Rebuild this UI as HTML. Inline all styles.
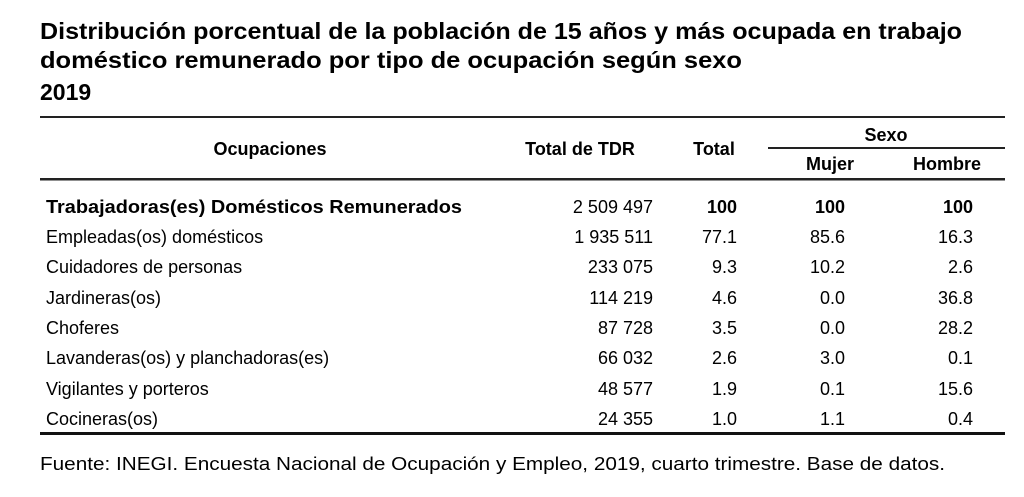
<!DOCTYPE html>
<html><head><meta charset="utf-8"><style>
html,body{margin:0;padding:0;background:#fff;}
svg{display:block;}
text{font-family:"Liberation Sans",Arial,sans-serif;fill:#000;}
.t{font-size:23px;font-weight:bold;}
.h{font-size:18px;font-weight:bold;}
.r{font-size:18px;}
.b{font-weight:bold;}
</style></head><body>
<svg width="1024" height="497" viewBox="0 0 1024 497" xmlns="http://www.w3.org/2000/svg">
<text class="t" x="40" y="39" textLength="922" lengthAdjust="spacingAndGlyphs">Distribución porcentual de la población de 15 años y más ocupada en trabajo</text>
<text class="t" x="40" y="68" textLength="702" lengthAdjust="spacingAndGlyphs">doméstico remunerado por tipo de ocupación según sexo</text>
<text class="t" x="40" y="100">2019</text>
<rect x="40" y="116" width="965" height="2" fill="#222"/>
<rect x="768" y="147" width="237" height="2" fill="#222"/>
<rect x="40" y="178" width="965" height="2.5" fill="#222"/>
<rect x="40" y="432" width="965" height="3" fill="#111"/>
<g class="h" text-anchor="middle">
<text x="270" y="155">Ocupaciones</text>
<text x="580" y="155">Total de TDR</text>
<text x="714" y="155">Total</text>
<text x="886" y="141">Sexo</text>
<text x="830" y="170">Mujer</text>
<text x="947" y="170">Hombre</text>
</g>
<g class="r">
<text x="46" y="213" class="b" textLength="416" lengthAdjust="spacingAndGlyphs">Trabajadoras(es) Domésticos Remunerados</text>
<text x="46" y="243">Empleadas(os) domésticos</text>
<text x="46" y="273">Cuidadores de personas</text>
<text x="46" y="304">Jardineras(os)</text>
<text x="46" y="334">Choferes</text>
<text x="46" y="364">Lavanderas(os) y planchadoras(es)</text>
<text x="46" y="395">Vigilantes y porteros</text>
<text x="46" y="425">Cocineras(os)</text>
</g>
<g class="r" text-anchor="end">
<text x="653" y="213">2 509 497</text><text x="737" y="213" class="b">100</text><text x="845" y="213" class="b">100</text><text x="973" y="213" class="b">100</text>
<text x="653" y="243">1 935 511</text><text x="737" y="243">77.1</text><text x="845" y="243">85.6</text><text x="973" y="243">16.3</text>
<text x="653" y="273">233 075</text><text x="737" y="273">9.3</text><text x="845" y="273">10.2</text><text x="973" y="273">2.6</text>
<text x="653" y="304">114 219</text><text x="737" y="304">4.6</text><text x="845" y="304">0.0</text><text x="973" y="304">36.8</text>
<text x="653" y="334">87 728</text><text x="737" y="334">3.5</text><text x="845" y="334">0.0</text><text x="973" y="334">28.2</text>
<text x="653" y="364">66 032</text><text x="737" y="364">2.6</text><text x="845" y="364">3.0</text><text x="973" y="364">0.1</text>
<text x="653" y="395">48 577</text><text x="737" y="395">1.9</text><text x="845" y="395">0.1</text><text x="973" y="395">15.6</text>
<text x="653" y="425">24 355</text><text x="737" y="425">1.0</text><text x="845" y="425">1.1</text><text x="973" y="425">0.4</text>
</g>
<text class="r" x="40" y="470" textLength="905" lengthAdjust="spacingAndGlyphs">Fuente: INEGI. Encuesta Nacional de Ocupación y Empleo, 2019, cuarto trimestre. Base de datos.</text>
</svg>
</body></html>
